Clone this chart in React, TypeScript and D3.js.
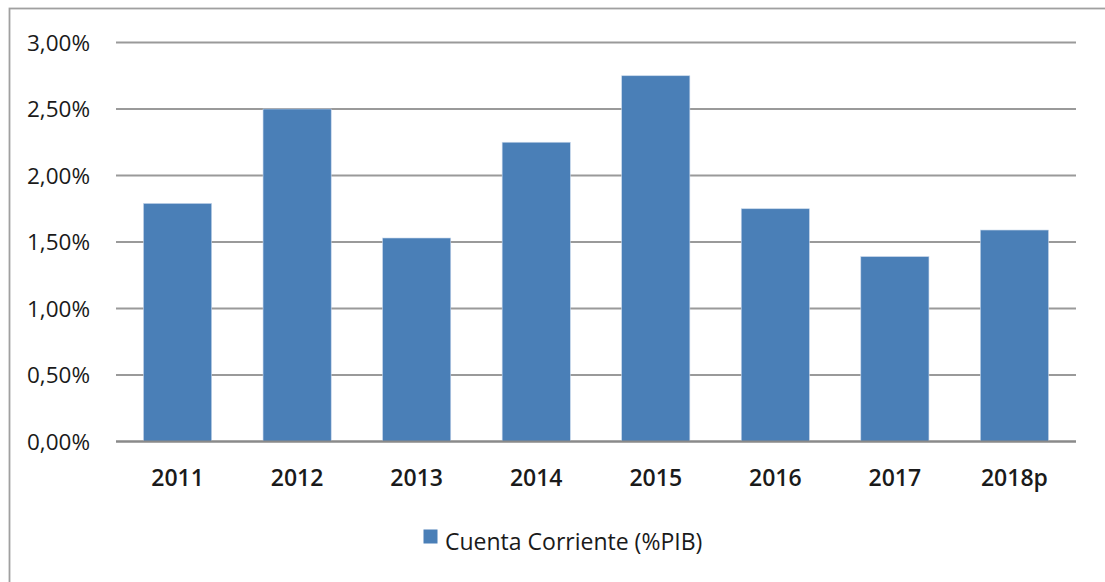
import React from "react";
import * as d3 from "d3";

const categories = ["2011", "2012", "2013", "2014", "2015", "2016", "2017", "2018p"];
const values = [1.79, 2.5, 1.53, 2.25, 2.75, 1.75, 1.39, 1.59];
const yTicks = [0, 0.5, 1, 1.5, 2, 2.5, 3];
const seriesName = "Cuenta Corriente (%PIB)";

const W = 1105;
const H = 582;
const FONT = "'Open Sans', 'DejaVu Sans', sans-serif";
const BAR = "#4A7FB7";

export default function App() {
  const x = d3.scaleBand<string>().domain(categories).range([116, 1076]).paddingInner(0.43).paddingOuter(0.23);
  const y = d3.scaleLinear().domain([0, 3]).range([441.5, 42.5]);
  const fmt = (v: number) => v.toFixed(2).replace(".", ",") + "%";

  return (
    <svg width={W} height={H} style={{ position: "absolute", left: 0, top: 0, background: "#fff" }}>
      <rect x={9.5} y={8.5} width={W + 20} height={H + 20} fill="#fff" stroke="#a0a0a0" strokeWidth={1.8} />
      {yTicks.map((t) => (
        <g key={t}>
          <line x1={116} x2={1076} y1={y(t)} y2={y(t)} stroke={t === 0 ? "#8a8a8a" : "#9a9a9a"} strokeWidth={t === 0 ? 2 : 1.8} />
          <text x={90} y={y(t)} dy="0.36em" textAnchor="end" fontFamily={FONT} fontSize={22.5} fill="#1a1a1a">
            {fmt(t)}
          </text>
        </g>
      ))}
      {categories.map((c, i) => (
        <rect key={c} x={x(c)} y={y(values[i])} width={x.bandwidth()} height={y(0) - y(values[i])} fill={BAR} stroke="#c5d5ea" strokeWidth={0.6} />
      ))}
      <line x1={116} x2={1076} y1={y(0)} y2={y(0)} stroke="#8a8a8a" strokeWidth={2} />
      {categories.map((c) => (
        <text key={c} x={(x(c) as number) + x.bandwidth() / 2} y={486} textAnchor="middle" fontFamily={FONT} fontSize={23} fontWeight={600} fill="#1a1a1a">
          {c}
        </text>
      ))}
      <rect x={423.5} y={529.5} width={14} height={14} fill={BAR} />
      <text x={445} y={550} fontFamily={FONT} fontSize={23} fill="#1a1a1a">
        {seriesName}
      </text>
    </svg>
  );
}
